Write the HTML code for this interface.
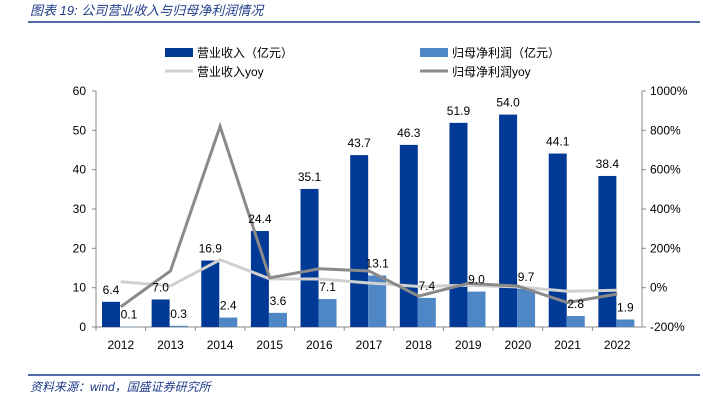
<!DOCTYPE html>
<html><head><meta charset="utf-8"><style>
body{margin:0;background:#fff;width:703px;height:403px;overflow:hidden;font-family:"Liberation Sans","Noto Sans CJK SC",sans-serif}
svg text{font-family:"Liberation Sans","Noto Sans CJK SC",sans-serif}
</style></head><body>
<svg width="703" height="403">
<text x="30" y="15" font-size="13" font-style="italic" fill="#1f3c88">图表 19:  公司营业收入与归母净利润情况</text>
<line x1="28" y1="22" x2="700" y2="22" stroke="#1f3c88" stroke-width="1.5"/>
<line x1="28" y1="375" x2="700" y2="375" stroke="#1f3c88" stroke-width="1.5"/>
<text x="30" y="391" font-size="12" font-style="italic" fill="#1f3c88">资料来源：wind，国盛证券研究所</text>
<g font-size="12" fill="#000">
<rect x="165" y="48" width="28" height="9" fill="#003a96"/>
<text x="197" y="57">营业收入（亿元）</text>
<rect x="420" y="48" width="28" height="9" fill="#4f86c6"/>
<text x="452" y="57">归母净利润（亿元）</text>
<line x1="165" y1="71" x2="193" y2="71" stroke="#d0d0d0" stroke-width="3"/>
<text x="197" y="76">营业收入yoy</text>
<line x1="420" y1="71" x2="448" y2="71" stroke="#8a8a8a" stroke-width="3"/>
<text x="452" y="76">归母净利润yoy</text>
</g>
<g id="plot"></g>
</svg>
<script>
const years=["2012","2013","2014","2015","2016","2017","2018","2019","2020","2021","2022"];
const revenue=[6.4,7.0,16.9,24.4,35.1,43.7,46.3,51.9,54.0,44.1,38.4];
const profit=[0.1,0.3,2.4,3.6,7.1,13.1,7.4,9.0,9.7,2.8,1.9];
const revYoy=[30,9,142,45,44,24,6,12,4,-18,-13];
const profitYoy=[-97,85,820,50,96,85,-43,22,8,-76,-32];
const leftTicks=[0,10,20,30,40,50,60];
const rightTicks=[-200,0,200,400,600,800,1000];
const NS="http://www.w3.org/2000/svg";
const g=document.getElementById('plot');
const X0=96,X1=642,YT=91,YB=327;
const cw=(X1-X0)/years.length;
const yL=v=>YB-(v/60)*(YB-YT);
const yR=v=>YB-((v+200)/1200)*(YB-YT);
const xc=i=>X0+cw*(i+0.5);
function mk(t,a){const e=document.createElementNS(NS,t);for(const k in a)e.setAttribute(k,a[k]);g.appendChild(e);return e;}
let e;
e=mk('line',{x1:X0,y1:YT,x2:X0,y2:YB,stroke:'#888'});


e=mk('line',{x1:X1,y1:YT,x2:X1,y2:YB,stroke:'#888'});


e=mk('line',{x1:X0,y1:YB,x2:X1,y2:YB,stroke:'#888'});


leftTicks.forEach(v=>{
  mk('line',{x1:X0-4,y1:yL(v),x2:X0,y2:yL(v),stroke:'#888'});
  e=mk('text',{x:X0-10,y:yL(v)+4,'font-size':12,'text-anchor':'end'});e.textContent=v;
  
  
});
rightTicks.forEach(v=>{
  mk('line',{x1:X1,y1:yR(v),x2:X1+4,y2:yR(v),stroke:'#888'});
  e=mk('text',{x:X1+8,y:yR(v)+4,'font-size':12});e.textContent=v+'%';
  
  
});
years.forEach((y,i)=>{
  mk('line',{x1:X0+cw*i,y1:YB,x2:X0+cw*i,y2:YB+4,stroke:'#888'});
  e=mk('text',{x:xc(i),y:YB+22,'font-size':12,'text-anchor':'middle'});e.textContent=y;
  
  
});
years.forEach((y,i)=>{
  const l=X0+cw*i;
  e=mk('rect',{x:l+6,y:yL(revenue[i]),width:18,height:YB-yL(revenue[i]),fill:'#003a96'});
  
  
  e=mk('rect',{x:l+24,y:yL(profit[i]),width:18,height:YB-yL(profit[i]),fill:'#4f86c6'});
  
  
});
function line(arr,col,name){
  e=mk('polyline',{points:arr.map((v,i)=>xc(i)+','+yR(v)).join(' '),fill:'none',stroke:col,'stroke-width':3});
  
  
}
line(revYoy,'#d0d0d0','revenue-yoy-line');
line(profitYoy,'#8a8a8a','profit-yoy-line');
years.forEach((y,i)=>{
  const l=X0+cw*i;
  e=mk('text',{x:l+15,y:yL(revenue[i])-8,'font-size':12,'text-anchor':'middle'});e.textContent=revenue[i].toFixed(1);
  
  
  e=mk('text',{x:l+33,y:yL(profit[i])-8,'font-size':12,'text-anchor':'middle'});e.textContent=profit[i].toFixed(1);
  
  
});
</script>
</body></html>
